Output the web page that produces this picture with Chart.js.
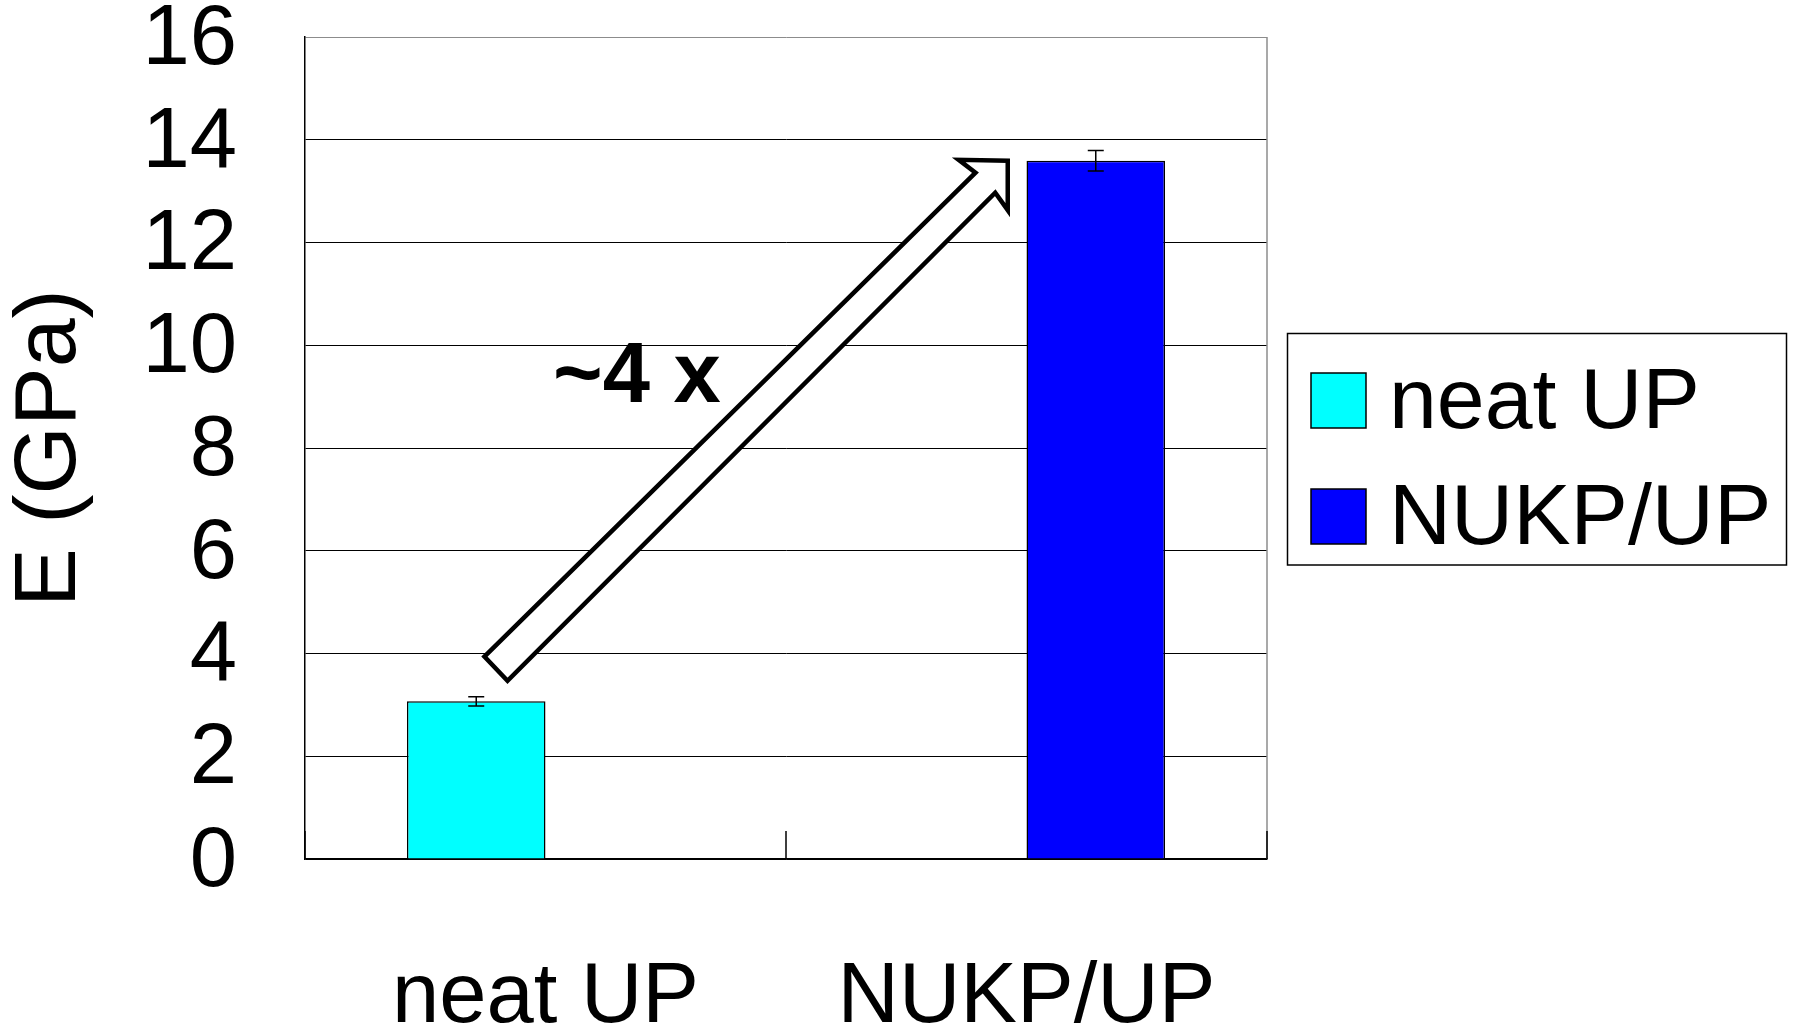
<!DOCTYPE html>
<html><head><meta charset="utf-8">
<script src="https://cdn.jsdelivr.net/npm/chart.js@4/dist/chart.umd.min.js"></script>
<style>html,body{margin:0;padding:0;background:#fff;overflow:hidden}#wrap{width:1793px;height:1027px}</style>
</head><body><div id="wrap"><canvas id="c" width="1793" height="1027"></canvas></div>
<script>
// ---- data ----
const categories = ['neat UP', 'NUKP/UP'];
const seriesNames = ['neat UP', 'NUKP/UP'];
const neatValues = [3.07, null];
const nukpValues = [null, 13.59];
const neatErrors = [0.09, null];
const nukpErrors = [null, 0.2];
const yTicks = [0, 2, 4, 6, 8, 10, 12, 14, 16];
const annotationText = '~4 x';
// hollow block arrow outline, in (category index, value) units
const arrowPoints = [[-0.127, 3.94], [0.894, 13.36], [0.859, 13.61], [0.961, 13.59], [0.961, 12.63], [0.935, 12.97], [-0.079, 3.47]];
const annotationAnchor = [0.19, 8.89];

const FONT = '"Liberation Sans", Arial, Helvetica, sans-serif';
Chart.defaults.font.family = FONT;
Chart.defaults.color = '#000';

const errorBarPlugin = {
  id: 'errorBars',
  afterDatasetsDraw(chart) {
    const ctx = chart.ctx, y = chart.scales.y;
    ctx.save();
    ctx.strokeStyle = '#000';
    ctx.lineWidth = 1.5;
    chart.data.datasets.forEach((ds, di) => {
      const meta = chart.getDatasetMeta(di);
      ds.data.forEach((v, i) => {
        const e = ds.errors[i];
        if (v == null || e == null) return;
        const x = meta.data[i].x;
        const y1 = y.getPixelForValue(v + e), y2 = y.getPixelForValue(v - e);
        ctx.beginPath();
        ctx.moveTo(x, y1); ctx.lineTo(x, y2);
        ctx.moveTo(x - 8, y1); ctx.lineTo(x + 8, y1);
        ctx.moveTo(x - 8, y2); ctx.lineTo(x + 8, y2);
        ctx.stroke();
      });
    });
    ctx.restore();
  }
};

const framePlugin = {
  id: 'frame',
  beforeDatasetsDraw(chart) {
    const ctx = chart.ctx, a = chart.chartArea;
    ctx.save();
    ctx.strokeStyle = '#8c8c8c';
    ctx.lineWidth = 1.5;
    ctx.beginPath();
    ctx.moveTo(a.right, a.top); ctx.lineTo(a.right, a.bottom);
    ctx.stroke();
    ctx.restore();
  },
  afterDatasetsDraw(chart) {
    const ctx = chart.ctx, a = chart.chartArea, xs = chart.scales.x;
    ctx.save();
    ctx.strokeStyle = '#000';
    ctx.lineWidth = 1.5;
    ctx.beginPath();
    for (let i = 0; i <= categories.length; i++) {
      const px = xs.getPixelForValue(i - 0.5);
      ctx.moveTo(px, a.bottom); ctx.lineTo(px, a.bottom - 28);
    }
    ctx.stroke();
    // arrow annotation
    const ys = chart.scales.y;
    ctx.beginPath();
    arrowPoints.forEach((p, k) => {
      const px = xs.getPixelForValue(p[0]), py = ys.getPixelForValue(p[1]);
      if (k === 0) ctx.moveTo(px, py); else ctx.lineTo(px, py);
    });
    ctx.closePath();
    ctx.fillStyle = '#fff';
    ctx.fill();
    ctx.lineWidth = 4.5;
    ctx.lineJoin = 'miter';
    ctx.stroke();
    ctx.fillStyle = '#000';
    ctx.font = 'bold 85px ' + FONT;
    ctx.textAlign = 'center';
    ctx.textBaseline = 'alphabetic';
    ctx.fillText(annotationText, xs.getPixelForValue(annotationAnchor[0]), ys.getPixelForValue(annotationAnchor[1]));
    ctx.restore();
  }
};

const legendPlugin = {
  id: 'boxLegend',
  afterDraw(chart) {
    const ctx = chart.ctx, a = chart.chartArea;
    const left = a.right + 20.5, top = 333.5, w = 499, h = 231.5;
    ctx.save();
    ctx.strokeStyle = '#000';
    ctx.lineWidth = 1.5;
    ctx.strokeRect(left, top, w, h);
    ctx.font = '86px ' + FONT;
    ctx.textBaseline = 'alphabetic';
    ctx.textAlign = 'left';
    chart.data.datasets.forEach((ds, i) => {
      const sy = 373 + i * 116;
      ctx.fillStyle = ds.backgroundColor;
      ctx.fillRect(left + 23.5, sy, 55, 55);
      ctx.lineWidth = 1.5;
      ctx.strokeRect(left + 23.5, sy, 55, 55);
      ctx.fillStyle = '#000';
      ctx.fillText(ds.label, left + 101.5, sy + 55 - 0.5);
    });
    ctx.restore();
  }
};

new Chart(document.getElementById('c'), {
  type: 'bar',
  data: {
    labels: categories,
    datasets: [
      { label: seriesNames[0], data: neatValues, errors: neatErrors, backgroundColor: '#00FFFF', borderColor: '#000', borderWidth: 1.5, categoryPercentage: 0.576, barPercentage: 1 },
      { label: seriesNames[1], data: nukpValues, errors: nukpErrors, backgroundColor: '#0000FF', borderColor: '#000', borderWidth: 1.5, categoryPercentage: 0.576, barPercentage: 1 }
    ]
  },
  options: {
    responsive: false,
    animation: false,
    devicePixelRatio: 1,
    layout: { padding: { top: 37, right: 526, bottom: 0, left: 0 } },
    plugins: { legend: { display: false }, tooltip: { enabled: false } },
    scales: {
      x: {
        grid: { display: false },
        border: { display: true, color: '#000', width: 1.5 },
        ticks: { font: { size: 85, lineHeight: 1 }, padding: 89, color: '#000', maxRotation: 0, autoSkip: false },
        afterFit(s) { s.height = 168; s.paddingLeft = 0; s.paddingRight = 0; }
      },
      y: {
        min: 0, max: 16,
        afterBuildTicks(s) { s.ticks = yTicks.map(v => ({ value: v })); },
        grid: { color: c => (c.tick && c.tick.value === 16) ? '#8c8c8c' : '#000', lineWidth: 1, drawTicks: false },
        border: { display: true, color: '#000', width: 1.5 },
        ticks: { font: { size: 85, lineHeight: 0.5 }, padding: 68, labelOffset: 3.5, color: '#000' },
        title: { display: true, text: 'E (GPa)', color: '#000', font: { size: 88, lineHeight: 1 }, padding: { top: 7, bottom: 0 } },
        afterFit(s) { s.width = 305; s.paddingTop = 0; s.paddingBottom = 0; }
      }
    }
  },
  plugins: [framePlugin, errorBarPlugin, legendPlugin]
});
</script></body></html>
